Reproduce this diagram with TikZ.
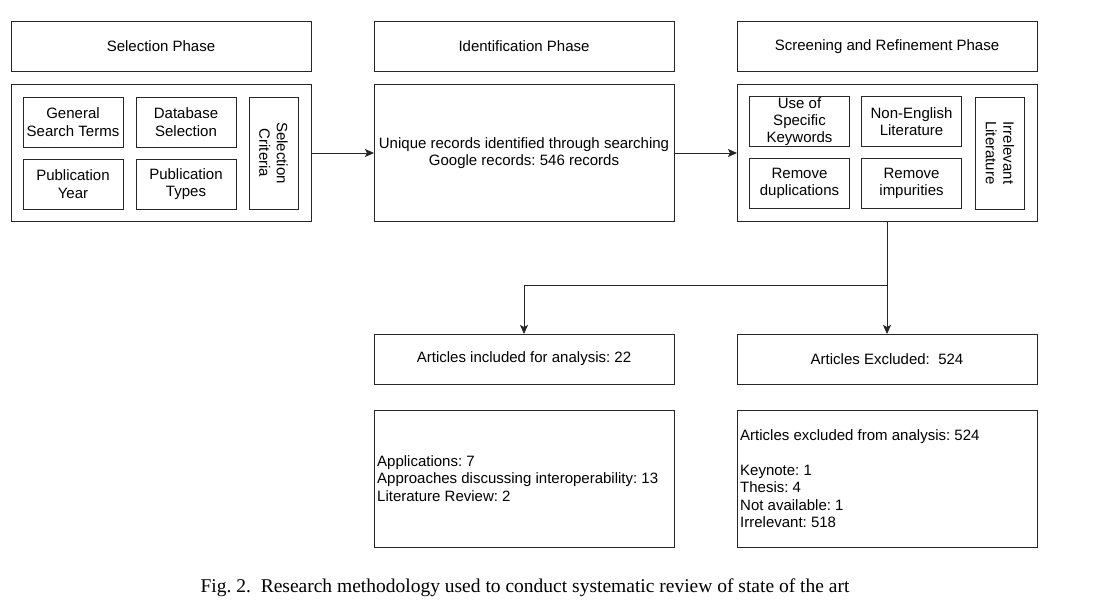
\documentclass[tikz,border=0pt]{standalone}
\usepackage{fontspec}
\setmainfont{Liberation Sans}
\newfontfamily\captionfont{Liberation Serif}
\usetikzlibrary{arrows.meta,positioning}
\tikzset{
  phase/.style={draw=black!85, line width=0.9pt, outer sep=0pt, align=center, minimum width=300pt, minimum height=50pt, inner sep=2pt},
  panel/.style={draw=black!85, line width=0.9pt, outer sep=0pt, align=center, minimum width=300pt, minimum height=137pt, inner sep=2pt},
  item/.style={draw=black!85, line width=0.9pt, outer sep=0pt, align=center, minimum width=100pt, minimum height=50pt, inner sep=1pt},
  sidebar/.style={draw=black!85, line width=0.9pt, outer sep=0pt, align=center, rotate=-90, minimum width=112pt, minimum height=49pt, inner sep=1pt},
  listtext/.style={align=left, anchor=west, inner sep=3pt},
  arrow/.style={-{Stealth[length=9pt,width=8pt,inset=2pt]}, line width=0.9pt, black!85}
}

\begin{document}
\frenchspacing
\begin{tikzpicture}[x=1pt, y=1pt, font=\fontsize{15}{17.5}\selectfont, node distance=13pt and 63pt]
  \useasboundingbox (0,0) rectangle (1097,-612);
  % phase headers
  \node[phase] (selhead) at (161,-46.5) {Selection Phase};
  \node[phase, right=of selhead] (idhead) {Identification Phase};
  \node[phase, right=of idhead] (scrhead) {Screening and Refinement Phase};
  % phase panels
  \node[panel, below=of selhead] (selpanel) {};
  \node[panel, below=of idhead] (idpanel) {Unique records identified through searching\\Google records: 546 records};
  \node[panel, below=of scrhead] (scrpanel) {};
  % selection items
  \node[item] (terms) at (73,-122) {General\\Search Terms};
  \node[item, right=13pt of terms] (database) {Database\\Selection};
  \node[item, below=12pt of terms] (year) {Publication\\Year};
  \node[item, below=12pt of database] (types) {Publication\\Types};
  \node[sidebar] (criteria) at (273.5,-153) {Selection\\Criteria};
  % screening items
  \node[item, font=\fontsize{15}{17}\selectfont] (keywords) at (799.5,-121.5) {Use of\\Specific\\Keywords};
  \node[item, right=12pt of keywords] (english) {Non-English\\Literature};
  \node[item, below=12pt of keywords] (dupl) {Remove\\duplications};
  \node[item, below=12pt of english] (impur) {Remove\\impurities};
  \node[sidebar] (irrelevant) at (1000,-153) {Irrelevant\\Literature};
  % results
  \node[phase] (incl) at (524,-359) {Articles included for analysis: 22};
  \node[phase] (excl) at (887,-359) {Articles Excluded:\ \ 524};
  \node[panel, below=26pt of incl] (inclbox) {};
  \node[panel, below=26pt of excl] (exclbox) {};
  \node[listtext] (incltext) at (inclbox.west) {Applications: 7\\Approaches discussing interoperability: 13\\Literature Review: 2};
  \node[listtext] (excltext) at (exclbox.west) {Articles excluded from analysis: 524\\[17.5pt]Keynote: 1\\Thesis: 4\\Not available: 1\\Irrelevant: 518};
  % caption
  \node[font=\captionfont\fontsize{19.5}{22}\selectfont] (caption) at (525,-588) {Fig. 2.\ \ Research methodology used to conduct systematic review of state of the art};
  % connectors
  \draw[arrow] (selpanel) -- (idpanel);
  \draw[arrow] (idpanel) -- (scrpanel);
  \draw[arrow] (scrpanel.south) -- (excl.north);
  \draw[arrow] ([yshift=-64pt]scrpanel.south) -| (incl.north);
\end{tikzpicture}
\end{document}
